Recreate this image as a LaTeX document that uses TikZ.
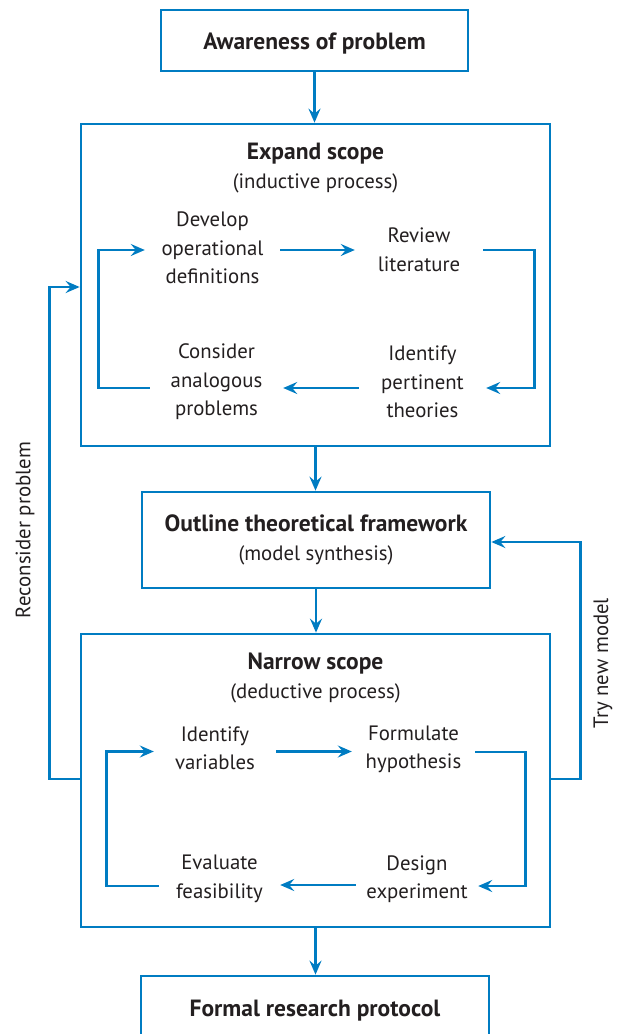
\documentclass[tikz,border=0pt]{standalone}
\usepackage{fontspec}
\setmainfont{PT Sans}
\usetikzlibrary{arrows.meta}
\definecolor{flowblue}{RGB}{0,124,194}
\definecolor{ink}{RGB}{35,31,32}
\newcommand{\bfsz}{\fontsize{23.5}{28.5}\selectfont\bfseries}
\newcommand{\lowertext}[1]{\raisebox{-3pt}[\height][\depth]{#1}}
\tikzset{
  every node/.style={text=ink, font=\fontsize{20.8}{28.5}\selectfont},
  bigbox/.style={draw=flowblue, line width=2.7pt, inner sep=0pt, align=center},
  item/.style={inner sep=0pt, align=center},
  arr/.style={draw=flowblue, line width=2.7pt, -{Stealth[length=14pt,width=12pt,inset=5pt]}},
  bt/.style={font=\bfsz}
}
\begin{document}
\begin{tikzpicture}[x=1pt,y=-1pt]
\useasboundingbox (0,0) rectangle (617,1034);
\clip (0,0) rectangle (617,1034);
% main boxes
\node[bigbox, minimum width=307pt, minimum height=61pt, bt] (aware) at (314.5,40.5) {\lowertext{Awareness of problem}};
\node[bigbox, minimum width=469pt, minimum height=322pt] (expand) at (315.5,285) {};
\node[item] (etitle) at (315.5,168) {{\bfsz Expand scope}\\(inductive process)};
\node[bigbox, minimum width=348pt, minimum height=96pt] (outline) at (316,540)
  {{\bfsz Outline theoretical framework}\\(model synthesis)};
\node[bigbox, minimum width=469pt, minimum height=293pt] (narrow) at (315.5,780.5) {};
\node[item] (ntitle) at (315.5,678) {{\bfsz Narrow scope}\\(deductive process)};
\node[bigbox, minimum width=348pt, minimum height=64pt, bt] (formal) at (315,1008) {\lowertext{Formal research protocol}};
% expand inner nodes
\node[item, minimum width=135pt] (dev) at (212.5,248) {Develop\\operational\\definitions};
\node[item, minimum width=128pt] (rev) at (419,250) {Review\\literature};
\node[item, minimum width=127pt] (idp) at (422.5,382) {Identify\\pertinent\\theories};
\node[item, minimum width=133pt] (cons) at (216.5,382) {Consider\\analogous\\problems};
% narrow inner nodes
\node[item, minimum width=122pt] (idv) at (215,748.5) {Identify\\variables};
\node[item, minimum width=123pt] (form) at (413.5,749.5) {Formulate\\hypothesis};
\node[item, minimum width=122pt] (des) at (417,879) {Design\\experiment};
\node[item, minimum width=121pt] (eval) at (219.5,879) {Evaluate\\feasibility};
% side labels
\node[item, rotate=90] (recon) at (25,530) {Reconsider problem};
\node[item, rotate=90] (trynew) at (603,663) {Try new model};
% vertical flow arrows
\draw[arr] (aware.south) -- (aware.south |- expand.north);
\draw[arr] (expand.south) -- (expand.south |- outline.north);
\draw[arr] (outline.south) -- (outline.south |- narrow.north);
\draw[arr] (narrow.south) -- (narrow.south |- formal.north);
% expand loop
\draw[arr] ([yshift=-2pt]dev.east) -- ([yshift=-2pt]dev.east -| rev.west);
\draw[arr] (rev.east) -- ++(51,0) |- ([yshift=-6pt]idp.east);
\draw[arr] ([yshift=-6pt]idp.west) -- ([yshift=-6pt]cons.east);
\draw[arr] ([yshift=-6pt]cons.west) -- ++(-51,0) |- ([yshift=-2pt]dev.west);
% narrow loop
\draw[arr] ([yshift=-3pt]idv.east) -- ([yshift=-3pt]idv.east -| form.west);
\draw[arr] ([yshift=-2.5pt]form.east) -- ++(50,0) |- ([yshift=-7pt]des.east);
\draw[arr] ([yshift=-6pt]des.west) -- ([yshift=-6pt]des.west -| eval.east);
\draw[arr] ([yshift=-7pt]eval.west) -- ++(-52,0) |- ([yshift=-3pt]idv.west);
% feedback loops
\draw[arr] ([yshift=1.5pt]narrow.west) -- ++(-30,0) |- ([yshift=-2pt]expand.west);
\draw[arr] ([yshift=1.5pt]narrow.east) -- ++(29,0) |- ([yshift=-2pt]outline.east);
\end{tikzpicture}
\end{document}
